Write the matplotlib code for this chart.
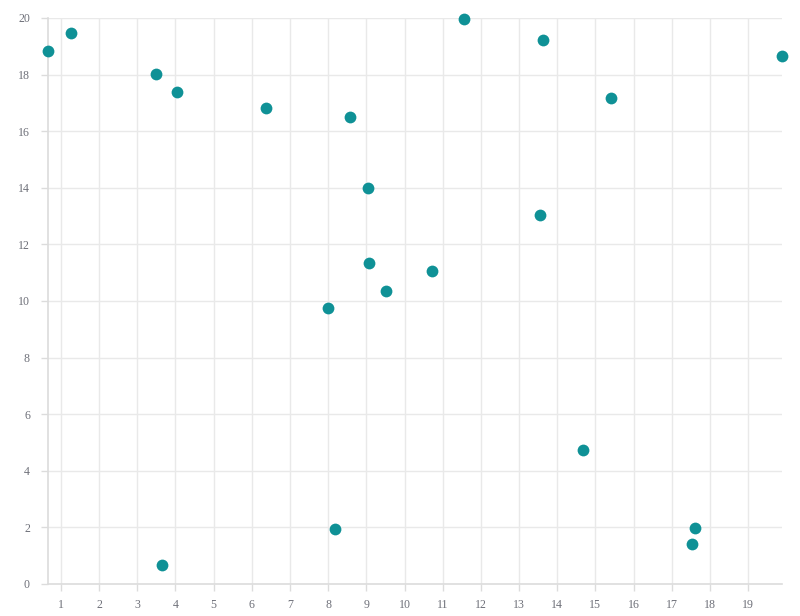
import matplotlib
matplotlib.use('Agg')
import matplotlib.pyplot as plt

# scatter values
xs = [0.66, 1.26, 3.49, 4.04, 3.65, 6.37, 8.57, 9.04, 9.07, 9.51, 7.99,
      8.18, 10.72, 11.56, 13.63, 13.55, 15.41, 14.68, 17.61, 17.53, 19.89]
ys = [18.83, 19.47, 18.02, 17.39, 0.67, 16.82, 16.50, 13.99, 11.34, 10.35, 9.75,
      1.94, 11.06, 19.96, 19.22, 13.04, 17.17, 4.73, 1.98, 1.41, 18.66]
xticks = list(range(1, 20))
yticks = list(range(0, 21, 2))

plt.rcParams['font.family'] = ['Liberation Serif', 'DejaVu Serif']

fig = plt.figure(figsize=(8, 6.16), dpi=100)
ax = fig.add_axes([0.06, 0.052, 0.9175, 0.9188])

gridc = '#e9e9e9'
axc = '#dcdcdc'
txtc = '#6e7079'

ax.scatter(xs, ys, s=72, color='#0f9196', zorder=3, clip_on=False, linewidths=0)

ax.set_xlim(min(xs), max(xs))
ax.set_ylim(0, 20)
ax.set_xticks(xticks)
ax.set_yticks(yticks)
ax.grid(True, color=gridc, linewidth=1)
ax.set_axisbelow(True)

for side in ['top', 'right']:
    ax.spines[side].set_visible(False)
for side in ['left', 'bottom']:
    ax.spines[side].set_color(axc)
    ax.spines[side].set_linewidth(1.2)

ax.tick_params(axis='both', colors=axc, labelcolor=txtc, labelsize=8.6,
               length=5, width=1)
ax.tick_params(axis='x', pad=6)
ax.tick_params(axis='y', pad=8)

fig.savefig('out.png', dpi=100, facecolor='white')
